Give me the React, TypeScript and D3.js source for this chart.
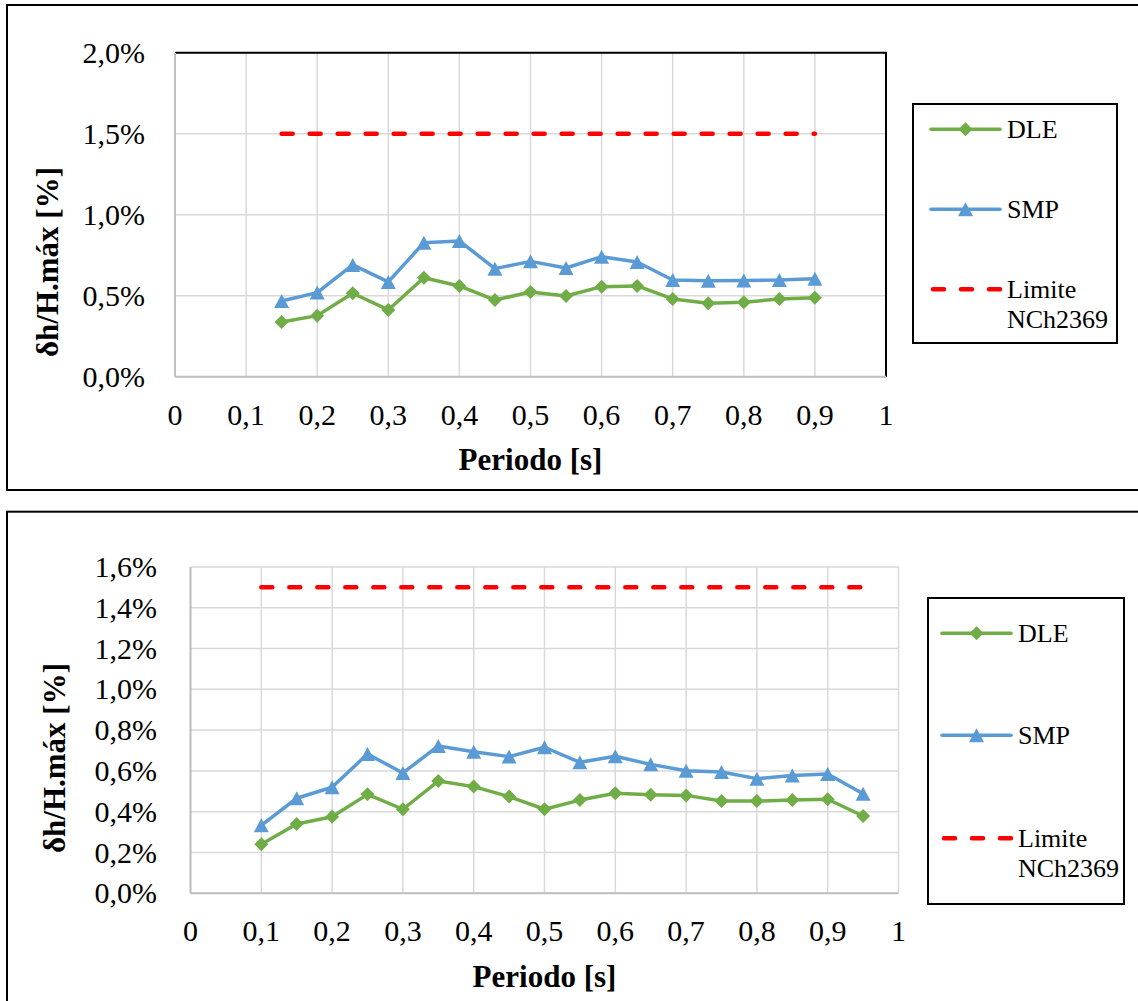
import React from "react";
import * as d3 from "d3";

// Periods [s] and drift ratios δh/H.máx [%]
const periodsTop = [0.15, 0.2, 0.25, 0.3, 0.35, 0.4, 0.45, 0.5, 0.55, 0.6, 0.65, 0.7, 0.75, 0.8, 0.85, 0.9];
const dleTop = [0.338, 0.377, 0.515, 0.412, 0.611, 0.56, 0.473, 0.523, 0.498, 0.556, 0.56, 0.48, 0.453, 0.459, 0.48, 0.488];
const smpTop = [0.467, 0.519, 0.69, 0.585, 0.827, 0.838, 0.667, 0.712, 0.671, 0.741, 0.708, 0.597, 0.593, 0.594, 0.597, 0.605];

const periodsBottom = [0.1, 0.15, 0.2, 0.25, 0.3, 0.35, 0.4, 0.45, 0.5, 0.55, 0.6, 0.65, 0.7, 0.75, 0.8, 0.85, 0.9, 0.95];
const dleBottom = [0.24, 0.34, 0.375, 0.485, 0.412, 0.55, 0.523, 0.474, 0.412, 0.457, 0.49, 0.483, 0.48, 0.452, 0.452, 0.457, 0.461, 0.379];
const smpBottom = [0.333, 0.466, 0.52, 0.683, 0.59, 0.722, 0.694, 0.67, 0.716, 0.642, 0.672, 0.632, 0.601, 0.595, 0.562, 0.578, 0.585, 0.488];

// NCh2369 drift limit [%]
const limitValue = 1.5;

const xTicks = [0, 0.1, 0.2, 0.3, 0.4, 0.5, 0.6, 0.7, 0.8, 0.9, 1];
const yTicksTop = [0, 0.5, 1.0, 1.5, 2.0];
const yTicksBottom = [0, 0.2, 0.4, 0.6, 0.8, 1.0, 1.2, 1.4, 1.6];

const seriesNames = ["DLE", "SMP", "Limite", "NCh2369"];

const GREEN = "#70AD47";
const BLUE = "#5B9BD5";
const RED = "#FF0000";
const GRID = "#d9d9d9";
const AXIS = "#bfbfbf";
const FONT = "Liberation Serif, Tinos, Times New Roman, Times, Nimbus Roman, FreeSerif, Noto Serif, DejaVu Serif, serif";

const fmtY = (v: number) => v.toFixed(1).replace(".", ",") + "%";
const fmtX = (v: number) => (v === 0 || v === 1 ? String(v) : v.toFixed(1).replace(".", ","));

const diamond = (cx: number, cy: number, r = 7) =>
  `M${cx},${cy - r}L${cx + r},${cy}L${cx},${cy + r}L${cx - r},${cy}Z`;
const triangle = (cx: number, cy: number, w = 15, h = 14) =>
  `M${cx},${cy - h / 2}L${cx + w / 2},${cy + h / 2}L${cx - w / 2},${cy + h / 2}Z`;

type Layout = {
  frame: { x: number; y: number; w: number; h: number };
  plot: { left: number; right: number; top: number; bottom: number };
  blackBorder: boolean;
  yLabelX: number;
  xTitleY: number;
  yTitle: { x: number; y: number };
  legend: { x: number; y: number; w: number; h: number; rows: number[]; lineX0: number; lineX1: number; textX: number };
};

const textStyle = (size: number, bold = false): React.CSSProperties => ({
  fontFamily: FONT,
  fontSize: size,
  fontWeight: bold ? "bold" : "normal",
});

function Chart({
  periods,
  dle,
  smp,
  yTicks,
  layout,
}: {
  periods: number[];
  dle: number[];
  smp: number[];
  yTicks: number[];
  layout: Layout;
}) {
  const { plot, frame, legend } = layout;
  const x = d3.scaleLinear().domain([0, 1]).range([plot.left, plot.right]);
  const y = d3
    .scaleLinear()
    .domain([0, d3.max(yTicks) as number])
    .range([plot.bottom, plot.top]);

  const line = d3
    .line<number>()
    .x((_, i) => x(periods[i]))
    .y((d) => y(d));

  const limitX0 = x(d3.min(periods) as number);
  const limitX1 = x(d3.max(periods) as number);
  const markerX = (legend.lineX0 + legend.lineX1) / 2;

  return (
    <g>
      <rect x={frame.x} y={frame.y} width={frame.w} height={frame.h} fill="#fff" stroke="#000" strokeWidth={2} />

      {/* gridlines */}
      {xTicks.map((t) => (
        <line key={"gx" + t} x1={x(t)} x2={x(t)} y1={plot.top} y2={plot.bottom} stroke={GRID} strokeWidth={1.5} />
      ))}
      {yTicks.map((t) => (
        <line key={"gy" + t} x1={plot.left} x2={plot.right} y1={y(t)} y2={y(t)} stroke={GRID} strokeWidth={1.5} />
      ))}

      {layout.blackBorder && (
        <path
          d={`M${plot.left},${plot.top}H${plot.right}V${plot.bottom}`}
          fill="none"
          stroke="#000"
          strokeWidth={2}
        />
      )}

      {/* axes */}
      <line x1={plot.left} x2={plot.left} y1={plot.top} y2={plot.bottom} stroke={AXIS} strokeWidth={2} />
      <line x1={plot.left} x2={plot.right} y1={plot.bottom} y2={plot.bottom} stroke={AXIS} strokeWidth={2} />

      {/* tick labels */}
      {yTicks.map((t) => (
        <text key={"ly" + t} x={layout.yLabelX} y={y(t) + 10} textAnchor="end" style={textStyle(30)} fill="#000">
          {fmtY(t)}
        </text>
      ))}
      {xTicks.map((t) => (
        <text key={"lx" + t} x={x(t)} y={plot.bottom + 48} textAnchor="middle" style={textStyle(30)} fill="#000">
          {fmtX(t)}
        </text>
      ))}

      {/* axis titles */}
      <text x={(plot.left + plot.right) / 2} y={layout.xTitleY} textAnchor="middle" style={textStyle(31, true)}>
        Periodo [s]
      </text>
      <text
        transform={`translate(${layout.yTitle.x},${layout.yTitle.y}) rotate(-90)`}
        textAnchor="middle"
        style={textStyle(31, true)}
      >
        δh/H.máx [%]
      </text>

      {/* limit line */}
      <line
        x1={limitX0}
        x2={limitX1}
        y1={y(limitValue)}
        y2={y(limitValue)}
        stroke={RED}
        strokeWidth={4.5}
        strokeDasharray="11 17"
        strokeLinecap="round"
      />

      {/* series */}
      <path d={line(dle) || ""} fill="none" stroke={GREEN} strokeWidth={3.5} strokeLinejoin="round" />
      {dle.map((v, i) => (
        <path key={"d" + i} d={diamond(x(periods[i]), y(v))} fill={GREEN} />
      ))}
      <path d={line(smp) || ""} fill="none" stroke={BLUE} strokeWidth={3.5} strokeLinejoin="round" />
      {smp.map((v, i) => (
        <path key={"s" + i} d={triangle(x(periods[i]), y(v))} fill={BLUE} />
      ))}

      {/* legend */}
      <rect x={legend.x} y={legend.y} width={legend.w} height={legend.h} fill="#fff" stroke="#000" strokeWidth={2} />
      <line x1={legend.lineX0} x2={legend.lineX1} y1={legend.rows[0]} y2={legend.rows[0]} stroke={GREEN} strokeWidth={3.5} strokeLinecap="round" />
      <path d={diamond(markerX, legend.rows[0])} fill={GREEN} />
      <text x={legend.textX} y={legend.rows[0] + 9} style={textStyle(26)}>
        {seriesNames[0]}
      </text>
      <line x1={legend.lineX0} x2={legend.lineX1} y1={legend.rows[1]} y2={legend.rows[1]} stroke={BLUE} strokeWidth={3.5} strokeLinecap="round" />
      <path d={triangle(markerX, legend.rows[1])} fill={BLUE} />
      <text x={legend.textX} y={legend.rows[1] + 9} style={textStyle(26)}>
        {seriesNames[1]}
      </text>
      <line
        x1={legend.lineX0 + 2}
        x2={legend.lineX1}
        y1={legend.rows[2]}
        y2={legend.rows[2]}
        stroke={RED}
        strokeWidth={4.5}
        strokeDasharray="11 17"
        strokeLinecap="round"
      />
      <text x={legend.textX} y={legend.rows[2] + 9} style={textStyle(26)}>
        {seriesNames[2]}
      </text>
      <text x={legend.textX} y={legend.rows[2] + 39} style={textStyle(26)}>
        {seriesNames[3]}
      </text>
    </g>
  );
}

const topLayout: Layout = {
  frame: { x: 7, y: 5, w: 1140, h: 485 },
  plot: { left: 175, right: 886, top: 52.7, bottom: 376.7 },
  blackBorder: true,
  yLabelX: 145,
  xTitleY: 470,
  yTitle: { x: 58, y: 262 },
  legend: { x: 913, y: 104, w: 204, h: 239, rows: [129.3, 209.3, 289.3], lineX0: 931, lineX1: 1000, textX: 1007 },
};

const bottomLayout: Layout = {
  frame: { x: 7, y: 511.7, w: 1140, h: 500 },
  plot: { left: 190.5, right: 898.5, top: 566.9, bottom: 893.3 },
  blackBorder: false,
  yLabelX: 157,
  xTitleY: 987,
  yTitle: { x: 65, y: 758 },
  legend: { x: 928, y: 598, w: 196, h: 306, rows: [633.3, 735.3, 838.3], lineX0: 942, lineX1: 1011, textX: 1018 },
};

export default function App() {
  return (
    <svg width={1138} height={1001} style={{ position: "absolute", left: 0, top: 0, background: "#fff" }}>
      <rect width={1138} height={1001} fill="#fff" />
      <Chart periods={periodsTop} dle={dleTop} smp={smpTop} yTicks={yTicksTop} layout={topLayout} />
      <Chart periods={periodsBottom} dle={dleBottom} smp={smpBottom} yTicks={yTicksBottom} layout={bottomLayout} />
    </svg>
  );
}
